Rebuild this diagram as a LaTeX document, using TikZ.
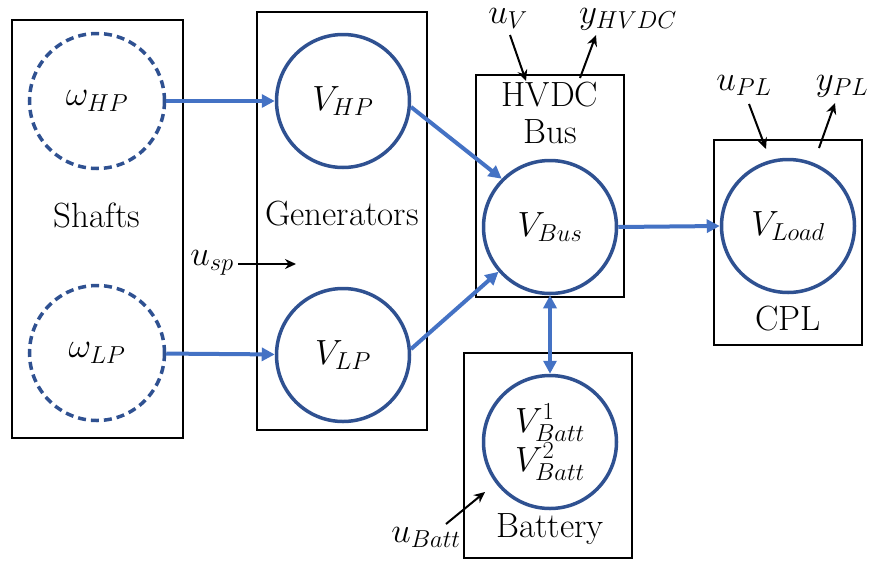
\RequirePackage{fix-cm}
\documentclass[tikz,border=0pt]{standalone}
\usetikzlibrary{arrows.meta}
\definecolor{circblue}{HTML}{2F5191}
\definecolor{arrblue}{HTML}{4472C4}
\begin{document}
\begin{tikzpicture}[x=1pt,y=-1pt,
  every node/.style={font=\fontsize{35}{38}\selectfont},
  blk/.style={draw=black,line width=1.2pt,rectangle,inner sep=0pt},
  st/.style={draw=circblue,line width=3.5pt,circle,minimum size=133pt,inner sep=0pt},
  dst/.style={st,minimum size=135pt,dash pattern=on 8pt off 5pt},
  flow/.style={draw=arrblue,line width=4pt,-{Triangle[length=13pt,width=13pt]}},
  bflow/.style={draw=arrblue,line width=4pt,{Triangle[length=13pt,width=13pt]}-{Triangle[length=13pt,width=13pt]}},
  sig/.style={draw=black,line width=2pt,-{Stealth[length=11pt,width=10pt]}},
  lbl/.style={inner sep=0pt,anchor=base}]
\useasboundingbox (0,0) rectangle (876,563);
% boxes
\node[blk,minimum width=171pt,minimum height=418pt] (shafts) at (97.5,229) {};
\node[blk,minimum width=170pt,minimum height=418pt] (gens) at (342,221) {};
\node[blk,minimum width=148pt,minimum height=222pt] (bus) at (550,186) {};
\node[blk,minimum width=148pt,minimum height=205pt] (cpl) at (788,242.5) {};
\node[blk,minimum width=168pt,minimum height=205pt] (batt) at (548,455.5) {};
% box labels
\node[lbl] (tshafts) at (97,227) {Shafts};
\node[lbl] (tgens) at (342,225) {Generators};
\node[lbl] (thvdc) at (550,106) {HVDC};
\node[lbl] (tbus) at (550,143) {Bus};
\node[lbl] (tcpl) at (788,330) {CPL};
\node[lbl] (tbatt) at (550,537) {Battery};
% state circles
\node[dst] (wHP) at (97,101) {$\omega_{HP}$};
\node[dst] (wLP) at (97,353) {$\omega_{LP}$};
\node[st] (VHP) at (343,101) {$V_{HP}$};
\node[st] (VLP) at (343,355) {$V_{LP}$};
\node[st] (VBus) at (550,227) {$V_{Bus}$};
\node[st] (VLoad) at (788,226) {$V_{Load}$};
\node[st,align=center,font=\fontsize{35}{38}\selectfont] (VBatt) at (550,442) {$V^1_{Batt}$\\[1pt]$V^2_{Batt}$};
% flows
\draw[flow] (wHP) -- (VHP);
\draw[flow] (wLP) -- (VLP);
\draw[flow] (VHP.-5) -- (VBus.135);
\draw[flow] (VLP.5) -- (VBus.221);
\draw[flow] (VBus.east) -- (VLoad.west);
\draw[bflow] (VBus) -- (VBatt);
% signals
\node[lbl] (usp) at (212,265) {$u_{sp}$};
\coordinate (uspStart) at (238,264);
\coordinate (uspEnd) at (296,264);
\draw[sig] (uspStart) -- (uspEnd);
\node[lbl] (uV) at (508,23) {$u_{V}$};
\coordinate (uVStart) at (510,35);
\coordinate (uVEnd) at (526,81);
\draw[sig] (uVStart) -- (uVEnd);
\node[lbl] (yH) at (628,23) {$y_{HVDC}$};
\coordinate (yHStart) at (580,78);
\coordinate (yHEnd) at (596,35);
\draw[sig] (yHStart) -- (yHEnd);
\node[lbl] (uPL) at (744,90) {$u_{PL}$};
\coordinate (uPLStart) at (749,104);
\coordinate (uPLEnd) at (766,149);
\draw[sig] (uPLStart) -- (uPLEnd);
\node[lbl] (yPL) at (842,90) {$y_{PL}$};
\coordinate (yPLStart) at (819,148);
\coordinate (yPLEnd) at (835,103);
\draw[sig] (yPLStart) -- (yPLEnd);
\node[lbl] (uB) at (426,542) {$u_{Batt}$};
\coordinate (uBStart) at (446,524);
\coordinate (uBEnd) at (485,492);
\draw[sig] (uBStart) -- (uBEnd);
\end{tikzpicture}
\end{document}
